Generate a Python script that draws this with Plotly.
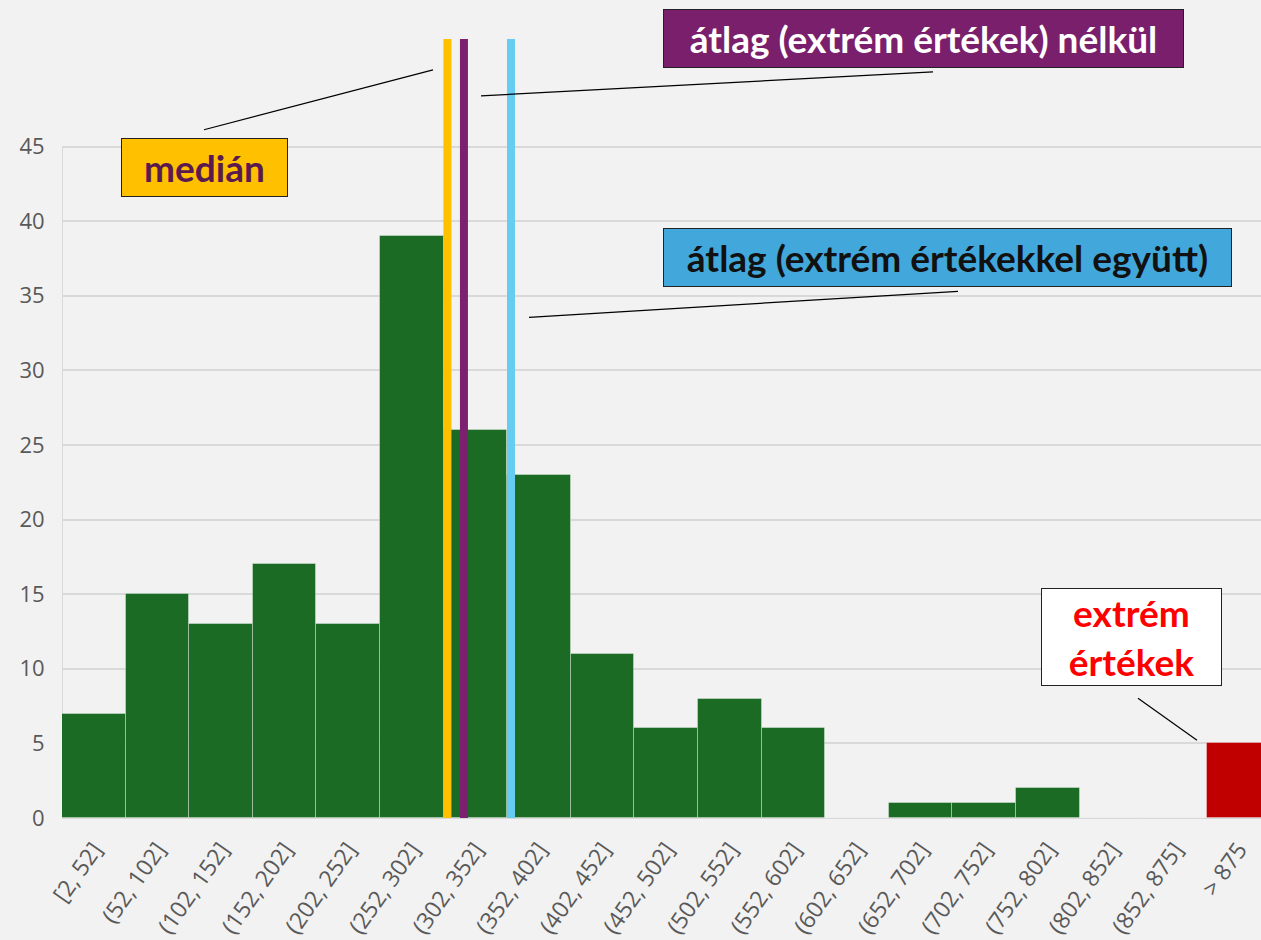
import plotly.graph_objects as go

# bins of the histogram and counts
labels = ['[2, 52]', '(52, 102]', '(102, 152]', '(152, 202]', '(202, 252]',
          '(252, 302]', '(302, 352]', '(352, 402]', '(402, 452]', '(452, 502]',
          '(502, 552]', '(552, 602]', '(602, 652]', '(652, 702]', '(702, 752]',
          '(752, 802]', '(802, 852]', '(852, 875]', '> 875']
bin_lo = [2, 52, 102, 152, 202, 252, 302, 352, 402, 452, 502, 552, 602, 652, 702, 752, 802, 852, 875]
bin_hi = [52, 102, 152, 202, 252, 302, 352, 402, 452, 502, 552, 602, 652, 702, 752, 802, 852, 875, 925]
counts = [7, 15, 13, 17, 13, 39, 26, 23, 11, 6, 8, 6, 0, 1, 1, 2, 0, 0, 5]
is_extreme = [False] * 18 + [True]

median_val = 305
mean_wo_extreme = 318
mean_with_extreme = 355

W, H = 1261, 940
ML, MR, MT, MB = 62, 0, 39, 120
pw, ph = W - ML - MR, H - MT - MB


def pos(v):
    # value -> position on the category axis (bin index units)
    for i in range(len(bin_lo)):
        if bin_lo[i] <= v <= bin_hi[i]:
            return i - 0.5 + (v - bin_lo[i]) / (bin_hi[i] - bin_lo[i])
    return len(bin_lo) - 0.5


def px(x):
    return (x - ML) / pw


def py(y):
    return (H - MB - y) / ph


colors = ['#C00000' if e else '#1B6B24' for e in is_extreme]
xs = list(range(len(labels)))

fig = go.Figure()
fig.add_trace(go.Bar(x=xs, y=counts, width=1, marker=dict(color=colors, line=dict(color='rgba(255,255,255,0.35)', width=1)),
                     showlegend=False, hoverinfo='x+y'))

shapes = []
# y-axis line up to 45
shapes.append(dict(type='line', xref='x', yref='y', x0=-0.5, x1=-0.5, y0=0, y1=45,
                   line=dict(color='#D9D9D9', width=2), layer='below'))
for v, c in [(median_val, '#FFC000'), (mean_wo_extreme, '#7B2170'), (mean_with_extreme, '#66CCF2')]:
    shapes.append(dict(type='line', xref='x', yref='paper', x0=pos(v), x1=pos(v), y0=0, y1=1,
                       line=dict(color=c, width=8)))
# connector lines
for (x0, y0, x1, y1) in [(204, 130, 433, 70), (481, 96, 933, 72), (529, 318, 958, 292), (1138, 700, 1197, 742)]:
    shapes.append(dict(type='line', xref='paper', yref='paper', x0=px(x0), y0=py(y0), x1=px(x1), y1=py(y1),
                       line=dict(color='#000000', width=1.2)))

annos = []


def box(text, x0, y0, x1, y1, bg, fg):
    annos.append(dict(text='<b>' + text + '</b>', xref='paper', yref='paper',
                      x=px((x0 + x1) / 2), y=py((y0 + y1) / 2), xanchor='center', yanchor='middle',
                      showarrow=False, width=x1 - x0 - 2, height=y1 - y0 - 2, borderpad=0,
                      bgcolor=bg, bordercolor='#222222', borderwidth=1, align='center',
                      font=dict(family='Lato', size=37, color=fg)))


box('medián', 121, 138, 288, 197, '#FFC000', '#5B1A4F')
box('átlag (extrém értékek) nélkül', 663, 9, 1184, 68, '#7A1F6C', '#FFFFFF')
box('átlag (extrém értékekkel együtt)', 663, 229, 1232, 288, '#42A8DB', '#111111')
box('extrém<br>értékek', 1041, 590, 1222, 688, '#FFFFFF', '#FF0000')

fig.update_layout(
    width=W, height=H,
    margin=dict(l=ML, r=MR, t=MT, b=MB),
    paper_bgcolor='#F2F2F2', plot_bgcolor='#F2F2F2',
    bargap=0,
    shapes=shapes, annotations=annos,
    font=dict(family='Open Sans', color='#595959', size=20),
    xaxis=dict(tickvals=xs, ticktext=labels, tickangle=-55, range=[-0.5, -0.5 + pw / 63.6],
               showgrid=False, zeroline=False, showline=False, ticks='outside', ticklen=8,
               tickcolor='rgba(0,0,0,0)', tickfont=dict(size=23, color='#595959')),
    yaxis=dict(range=[0, ph / 14.96], tickvals=list(range(0, 50, 5)), showgrid=True,
               gridcolor='#D9D9D9', gridwidth=2, zeroline=True, zerolinecolor='#D9D9D9', zerolinewidth=2,
               showline=False, ticks='outside', ticklen=12, tickcolor='rgba(0,0,0,0)',
               tickfont=dict(size=22, color='#595959')),
)

fig.write_html('out.html', config={'displayModeBar': False},
               post_script="document.body.style.margin='0';document.body.style.overflow='hidden';")
